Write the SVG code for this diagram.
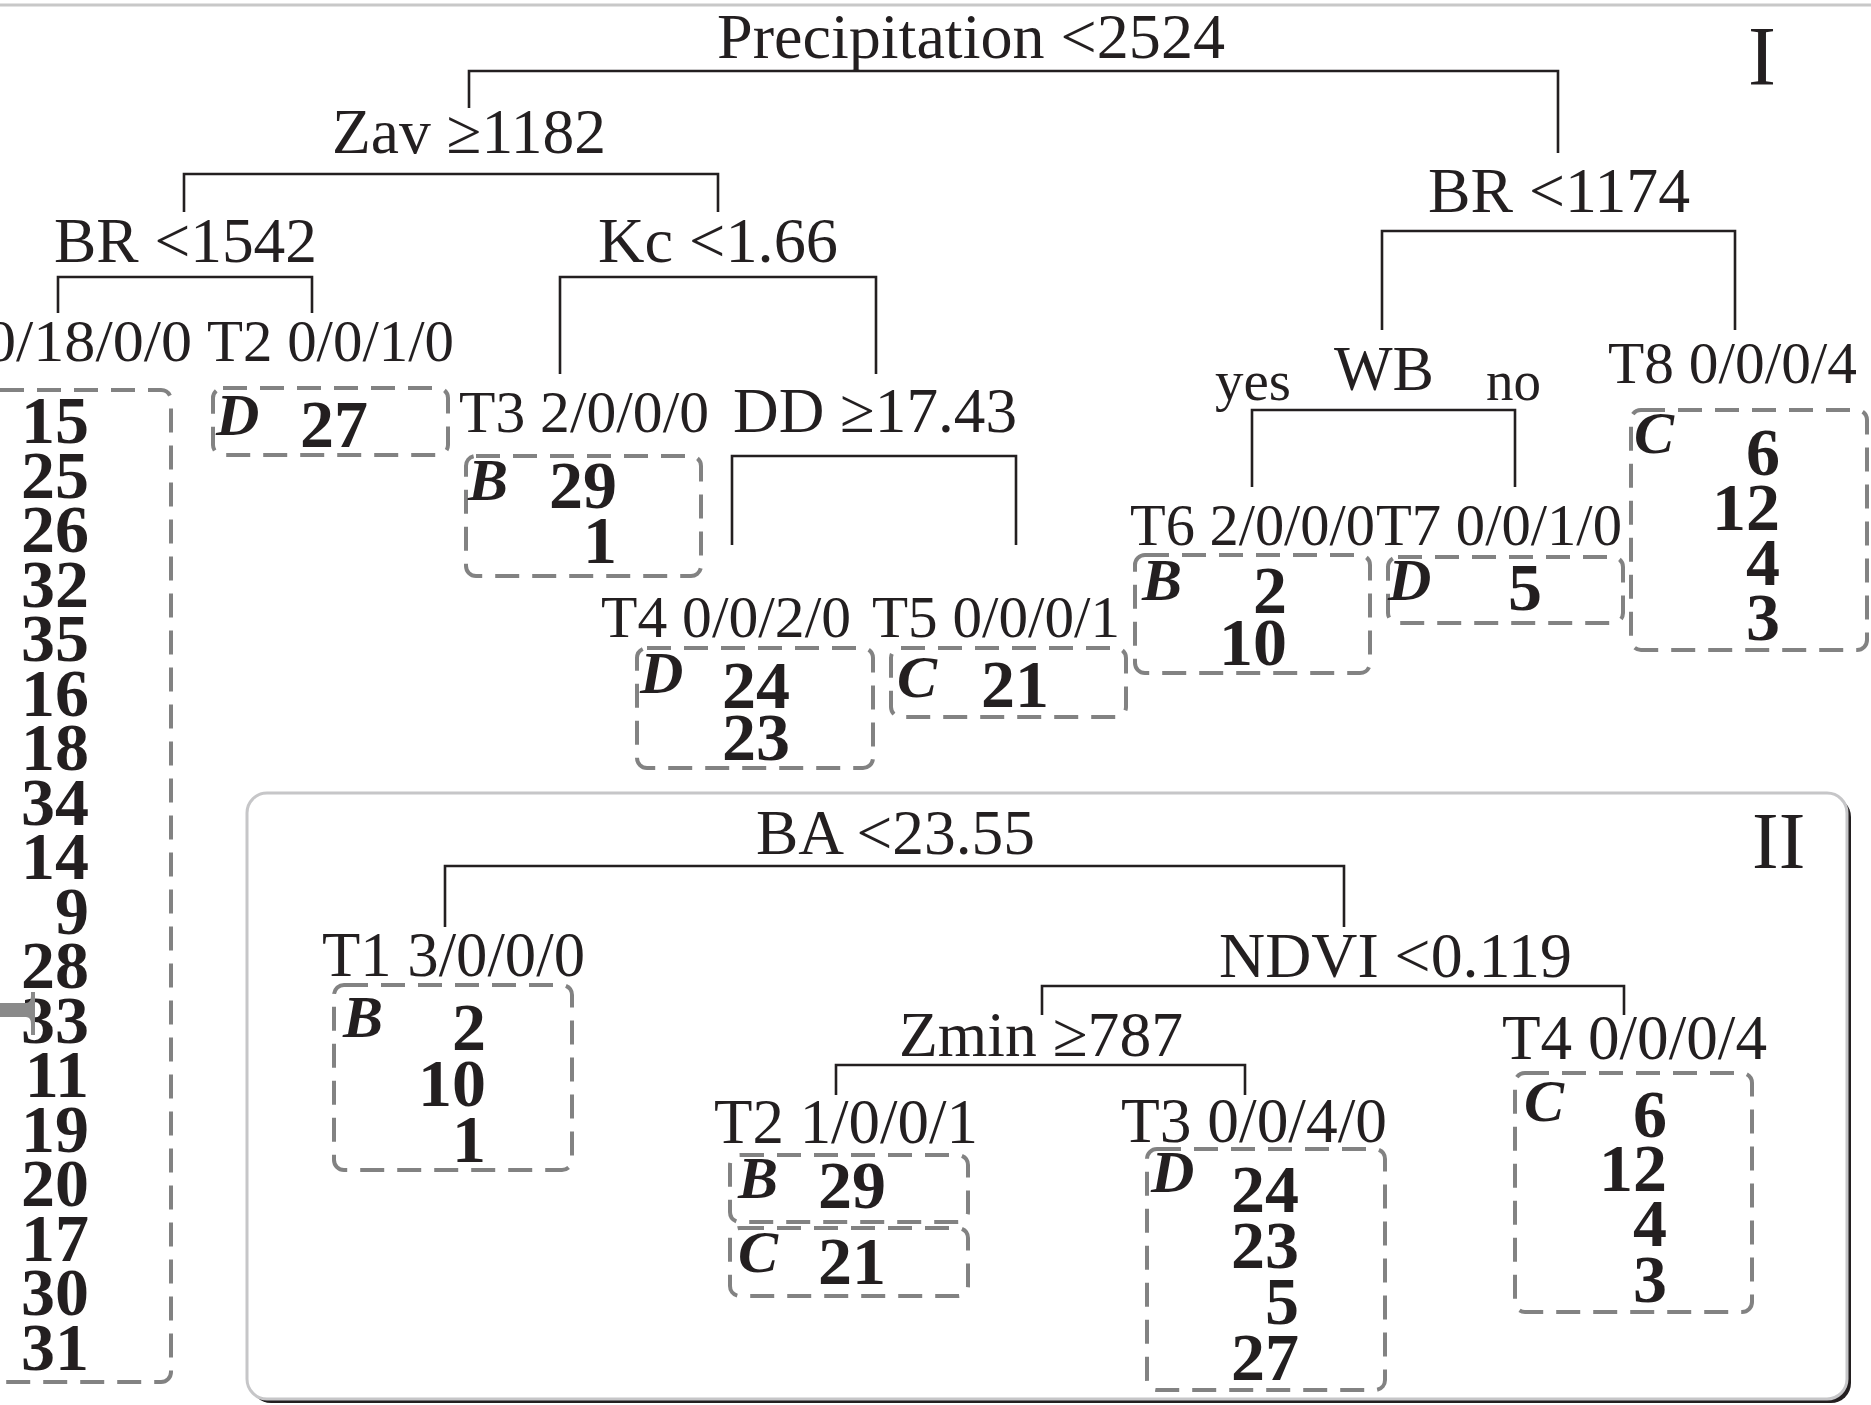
<svg xmlns="http://www.w3.org/2000/svg" width="1871" height="1405" viewBox="0 0 1871 1405">
<style>
text{font-family:"Liberation Serif","Times New Roman",serif;fill:#231f20}
.lbl{font-size:63px}
.tl{font-size:60px}
.num{font-size:68px;font-weight:bold;text-anchor:end}
.cls{font-size:60px;font-weight:bold;font-style:italic}
.box{fill:none;stroke:#828282;stroke-width:4;stroke-dasharray:24 13}
.con{fill:none;stroke:#231f20;stroke-width:2.6}
</style>
<rect width="1871" height="1405" fill="#ffffff"/>
<line x1="0" y1="5" x2="1871" y2="5" stroke="#c8c8c8" stroke-width="3"/>

<!-- Panel II frame -->
<g id="panel2">
<rect x="251" y="797" width="1600" height="606" rx="20" fill="#231f20"/>
<rect x="247" y="793" width="1600" height="606" rx="20" fill="#ffffff" stroke="#c6c6c8" stroke-width="3"/>
</g>

<g id="connectors">
<path class="con" d="M469,108 V71 H1558 V153"/>
<path class="con" d="M184,212 V174 H718 V212"/>
<path class="con" d="M58,313 V277 H312 V313"/>
<path class="con" d="M560,374 V277 H876 V374"/>
<path class="con" d="M732,545 V456 H1016 V545"/>
<path class="con" d="M1382,330 V231 H1735 V330"/>
<path class="con" d="M1252,487 V410 H1515 V487"/>
<path class="con" d="M445,927 V866 H1344 V927"/>
<path class="con" d="M1042,1015 V986 H1624 V1015"/>
<path class="con" d="M836,1095 V1065 H1245 V1095"/>
</g>

<!-- Panel I -->
<text x="1748" y="85" style="font-size:84px">I</text>
<g id="n-precip"><text class="lbl" x="717" y="58" textLength="508" lengthAdjust="spacingAndGlyphs">Precipitation &lt;2524</text></g>
<g id="n-zav"><text class="lbl" x="332" y="153" textLength="274" lengthAdjust="spacingAndGlyphs">Zav ≥1182</text></g>
<g id="n-br1542"><text class="lbl" x="54" y="262" textLength="263" lengthAdjust="spacingAndGlyphs">BR &lt;1542</text></g>
<g id="n-kc"><text class="lbl" x="598" y="262" textLength="240" lengthAdjust="spacingAndGlyphs">Kc &lt;1.66</text></g>
<g id="n-br1174"><text class="lbl" x="1428" y="212" textLength="262" lengthAdjust="spacingAndGlyphs">BR &lt;1174</text></g>
<g id="n-dd"><text class="lbl" x="733" y="432" textLength="284" lengthAdjust="spacingAndGlyphs">DD ≥17.43</text></g>
<g id="n-wb">
<text class="lbl" x="1334" y="390" textLength="100" lengthAdjust="spacingAndGlyphs">WB</text>
<text style="font-size:57px" x="1215" y="400" textLength="76" lengthAdjust="spacingAndGlyphs">yes</text>
<text style="font-size:57px" x="1486" y="400" textLength="55" lengthAdjust="spacingAndGlyphs">no</text>
</g>

<g id="leaf-t1">
<text class="tl" x="-15" y="361" textLength="207" lengthAdjust="spacingAndGlyphs">0/18/0/0</text>
<rect class="box" x="-10" y="390" width="181" height="992" rx="10"/>
<text class="num" x="89" y="443">15</text>
<text class="num" x="89" y="497.5">25</text>
<text class="num" x="89" y="552">26</text>
<text class="num" x="89" y="606.5">32</text>
<text class="num" x="89" y="661">35</text>
<text class="num" x="89" y="715.5">16</text>
<text class="num" x="89" y="770">18</text>
<text class="num" x="89" y="824.5">34</text>
<text class="num" x="89" y="879">14</text>
<text class="num" x="89" y="933.5">9</text>
<text class="num" x="89" y="988">28</text>
<text class="num" x="89" y="1042.5">33</text>
<text class="num" x="89" y="1097">11</text>
<text class="num" x="89" y="1151.5">19</text>
<text class="num" x="89" y="1206">20</text>
<text class="num" x="89" y="1260.5">17</text>
<text class="num" x="89" y="1315">30</text>
<text class="num" x="89" y="1369.5">31</text>
</g>

<g id="leaf-t2">
<text class="tl" x="207" y="361" textLength="247" lengthAdjust="spacingAndGlyphs">T2 0/0/1/0</text>
<rect class="box" x="213" y="388" width="235" height="67" rx="10"/>
<text class="cls" x="216" y="435">D</text>
<text class="num" x="368" y="447">27</text>
</g>

<g id="leaf-t3">
<text class="tl" x="459" y="432" textLength="250" lengthAdjust="spacingAndGlyphs">T3 2/0/0/0</text>
<rect class="box" x="466" y="456" width="235" height="120" rx="10"/>
<text class="cls" x="468" y="500">B</text>
<text class="num" x="617" y="508">29</text>
<text class="num" x="617" y="563">1</text>
</g>

<g id="leaf-t4">
<text class="tl" x="601" y="637" textLength="250" lengthAdjust="spacingAndGlyphs">T4 0/0/2/0</text>
<rect class="box" x="637" y="648" width="236" height="120" rx="10"/>
<text class="cls" x="640" y="693">D</text>
<text class="num" x="790" y="708">24</text>
<text class="num" x="790" y="760">23</text>
</g>

<g id="leaf-t5">
<text class="tl" x="872" y="637" textLength="248" lengthAdjust="spacingAndGlyphs">T5 0/0/0/1</text>
<rect class="box" x="891" y="648" width="235" height="69" rx="10"/>
<text class="cls" x="897" y="697">C</text>
<text class="num" x="1049" y="707">21</text>
</g>

<g id="leaf-t6">
<text class="tl" x="1130" y="545" textLength="245" lengthAdjust="spacingAndGlyphs">T6 2/0/0/0</text>
<rect class="box" x="1135" y="555" width="235" height="118" rx="10"/>
<text class="cls" x="1142" y="600">B</text>
<text class="num" x="1287" y="613">2</text>
<text class="num" x="1287" y="665">10</text>
</g>

<g id="leaf-t7">
<text class="tl" x="1376" y="545" textLength="246" lengthAdjust="spacingAndGlyphs">T7 0/0/1/0</text>
<rect class="box" x="1388" y="557" width="235" height="66" rx="10"/>
<text class="cls" x="1388" y="600">D</text>
<text class="num" x="1542" y="610">5</text>
</g>

<g id="leaf-t8">
<text class="tl" x="1608" y="383" textLength="249" lengthAdjust="spacingAndGlyphs">T8 0/0/0/4</text>
<rect class="box" x="1631" y="410" width="236" height="240" rx="10"/>
<text class="cls" x="1634" y="453">C</text>
<text class="num" x="1780" y="475">6</text>
<text class="num" x="1780" y="530">12</text>
<text class="num" x="1780" y="585">4</text>
<text class="num" x="1780" y="640">3</text>
</g>

<!-- Panel II -->
<text x="1752" y="868" style="font-size:80px">II</text>
<g id="n2-ba"><text class="lbl" x="756" y="854" textLength="279" lengthAdjust="spacingAndGlyphs">BA &lt;23.55</text></g>
<g id="n2-ndvi"><text class="lbl" x="1219" y="977" textLength="353" lengthAdjust="spacingAndGlyphs">NDVI &lt;0.119</text></g>
<g id="n2-zmin"><text class="lbl" x="899" y="1056" textLength="284" lengthAdjust="spacingAndGlyphs">Zmin ≥787</text></g>

<g id="leaf2-t1">
<text class="lbl" x="322" y="976" textLength="263" lengthAdjust="spacingAndGlyphs">T1 3/0/0/0</text>
<rect class="box" x="334" y="985" width="238" height="185" rx="10"/>
<text class="cls" x="343" y="1037">B</text>
<text class="num" x="486" y="1050">2</text>
<text class="num" x="486" y="1106">10</text>
<text class="num" x="486" y="1162">1</text>
</g>

<g id="leaf2-t2">
<text class="lbl" x="714" y="1143" textLength="264" lengthAdjust="spacingAndGlyphs">T2 1/0/0/1</text>
<rect class="box" x="730" y="1155" width="238" height="67" rx="10"/>
<text class="cls" x="738" y="1198">B</text>
<text class="num" x="886" y="1208">29</text>
<rect class="box" x="730" y="1228" width="238" height="68" rx="10"/>
<text class="cls" x="738" y="1272">C</text>
<text class="num" x="886" y="1284">21</text>
</g>

<g id="leaf2-t3">
<text class="lbl" x="1121" y="1142" textLength="266" lengthAdjust="spacingAndGlyphs">T3 0/0/4/0</text>
<rect class="box" x="1147" y="1149" width="238" height="241" rx="10"/>
<text class="cls" x="1151" y="1192">D</text>
<text class="num" x="1299" y="1212">24</text>
<text class="num" x="1299" y="1268">23</text>
<text class="num" x="1299" y="1324">5</text>
<text class="num" x="1299" y="1380">27</text>
</g>

<g id="leaf2-t4">
<text class="lbl" x="1502" y="1059" textLength="265" lengthAdjust="spacingAndGlyphs">T4 0/0/0/4</text>
<rect class="box" x="1515" y="1073" width="237" height="239" rx="10"/>
<text class="cls" x="1524" y="1121">C</text>
<text class="num" x="1667" y="1137">6</text>
<text class="num" x="1667" y="1191">12</text>
<text class="num" x="1667" y="1246">4</text>
<text class="num" x="1667" y="1302">3</text>
</g>

<!-- gray tick at left edge -->
<path d="M0,1003 H26 Q31,1003 31,996 V992 H35 V1035 H31 V1024 Q31,1017 26,1017 H0 Z" fill="#8a8a8a"/>
</svg>
